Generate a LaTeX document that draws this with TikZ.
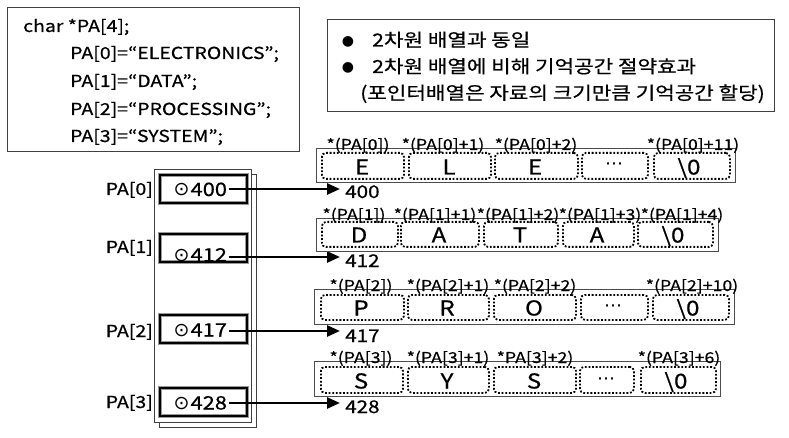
\documentclass[tikz,border=0pt]{standalone}
\usepackage{fontspec}
\setmainfont{Noto Sans CJK KR}[FakeStretch=1.18,FakeBold=0.6]
\newfontfamily\symf{DejaVu Sans}
\newcommand{\odotsym}{{\symf\fontsize{19}{20}\selectfont ⊙}\hspace{1pt}}
\usetikzlibrary{arrows.meta}
\begin{document}
\begin{tikzpicture}[x=1pt,y=-1pt,
  panel/.style={draw=black!75,line width=1.1pt,inner sep=0pt,anchor=north west},
  codetxt/.style={anchor=base west,inner sep=0pt,font=\fontsize{16.5}{18}\selectfont},
  kortxt/.style={anchor=base west,inner sep=0pt,font=\fontsize{18}{20}\selectfont},
  bul/.style={inner sep=0pt,font=\symf\fontsize{14}{16}\selectfont},
  ptrlbl/.style={anchor=base east,inner sep=0pt,font=\fontsize{16.5}{18}\selectfont},
  arrbox/.style={draw=black!75,line width=1pt,inner sep=0pt,anchor=north west},
  ptrcell/.style={draw=black,line width=1.8pt,preaction={draw=black!40,line width=3.8pt},inner sep=0pt,anchor=north west,minimum width=87pt,minimum height=28pt},
  ptrtxt/.style={anchor=base west,inner sep=1.5pt,font=\fontsize{18.5}{20}\selectfont},
  rowbox/.style={draw=black!70,line width=1.1pt,inner sep=0pt,anchor=north west},
  chcell/.style={draw=black,line width=1.8pt,dash pattern=on 1.8pt off 1.8pt,rounded corners=4pt,inner sep=0pt,anchor=north west},
  chtxt/.style={anchor=base,inner sep=0pt,font=\fontsize{20.5}{22}\selectfont},
  celllbl/.style={anchor=base,inner sep=0pt,font=\fontsize{15}{16}\selectfont},
  addr/.style={anchor=base west,inner sep=0pt,font=\fontsize{17.5}{19}\selectfont},
  ptr/.style={line width=2.6pt,-{Triangle[length=13pt,width=11pt]}}
]
\useasboundingbox (0,0) rectangle (789,438);

% code panel
\node[panel,minimum width=292pt,minimum height=144pt] (code) at (7,7) {};
\node[codetxt] (l0) at (23,32) {char *PA[4];};
\node[codetxt] (l1) at (70,59) {PA[0]=“ELECTRONICS”;};
\node[codetxt] (l2) at (70,87) {PA[1]=“DATA”;};
\node[codetxt] (l3) at (70,115) {PA[2]=“PROCESSING”;};
\node[codetxt] (l4) at (70,142) {PA[3]=“SYSTEM”;};

% note panel
\node[panel,minimum width=447pt,minimum height=92pt] (note) at (327,19) {};
\node[bul] (b1) at (348,42) {●};
\node[bul] (b2) at (348,68) {●};
\node[kortxt] (k1) at (372,46.5) {2차원 배열과 동일};
\node[kortxt] (k2) at (372,73) {2차원 배열에 비해 기억공간 절약효과};
\node[kortxt] (k3) at (360,99.5) {(포인터배열은 자료의 크기만큼 기억공간 할당)};

% pointer array
\node[arrbox,minimum width=97pt,minimum height=253pt] (pback) at (159,174) {};
\node[arrbox,fill=white,minimum width=97pt,minimum height=253pt] (pfront) at (154,169) {};

\node[ptrcell] (c0) at (159,174) {};
\node[ptrcell] (c1) at (159,233) {};
\node[ptrcell] (c2) at (159,314) {};
\node[ptrcell] (c3) at (159,387) {};

\node[ptrlbl] (p0) at (153,195) {PA[0]};
\node[ptrlbl] (p1) at (153,253) {PA[1]};
\node[ptrlbl] (p2) at (153,337) {PA[2]};
\node[ptrlbl] (p3) at (153,408) {PA[3]};

\node[ptrtxt] (t0) at (172,196) {\odotsym 400};
\node[ptrtxt] (t1) at (172,261.5) {\odotsym 412};
\node[ptrtxt] (t2) at (172,336.5) {\odotsym 417};
\node[ptrtxt] (t3) at (172,409.5) {\odotsym 428};

\coordinate (e0) at (340,189);
\coordinate (e1) at (340,257);
\coordinate (e2) at (340,331);
\coordinate (e3) at (340,403);

\draw[ptr] (t0.east |- e0) -- (e0);
\draw[ptr] (t1.east |- e1) -- (e1);
\draw[ptr] (t2.east |- e2) -- (e2);
\draw[ptr] (t3.east |- e3) -- (e3);

\node[addr] (a0) at (345,198) {400};
\node[addr] (a1) at (345,267) {412};
\node[addr] (a2) at (345,342) {417};
\node[addr] (a3) at (345,413) {428};

% row 0
\node[rowbox,minimum width=419pt,minimum height=34pt] (r0) at (316,148) {};
\node[chcell,minimum width=82pt,minimum height=26pt] (r0c1) at (321,152) {};
\node[chcell,minimum width=82pt,minimum height=26pt] (r0c2) at (408,152) {};
\node[chcell,minimum width=83pt,minimum height=26pt] (r0c3) at (494,152) {};
\node[chcell,minimum width=66pt,minimum height=26pt] (r0c4) at (581,152) {};
\node[chcell,minimum width=76pt,minimum height=26pt] (r0c5) at (653,152) {};
\node[chtxt] (r0t1) at (362,174.5) {E};
\node[chtxt] (r0t2) at (449,174.5) {L};
\node[chtxt] (r0t3) at (535,174.5) {E};
\node[chtxt,font=\symf\fontsize{18}{20}\selectfont] (r0t4) at (614,170) {⋯};
\node[chtxt] (r0t5) at (689,174.5) {\textbackslash 0};
\node[celllbl] (r0l1) at (358,150) {*(PA[0])};
\node[celllbl] (r0l2) at (443,150) {*(PA[0]+1)};
\node[celllbl] (r0l3) at (536,150) {*(PA[0]+2)};
\node[celllbl] (r0l5) at (693,150) {*(PA[0]+11)};

% row 1
\node[rowbox,minimum width=402pt,minimum height=33pt] (r1) at (316,218) {};
\node[chcell,minimum width=76pt,minimum height=25pt] (r1c1) at (321,221) {};
\node[chcell,minimum width=78pt,minimum height=25pt] (r1c2) at (400,221) {};
\node[chcell,minimum width=74pt,minimum height=25pt] (r1c3) at (483,221) {};
\node[chcell,minimum width=71pt,minimum height=25pt] (r1c4) at (562,221) {};
\node[chcell,minimum width=75pt,minimum height=25pt] (r1c5) at (637,221) {};
\node[chtxt] (r1t1) at (359,242.5) {D};
\node[chtxt] (r1t2) at (439,242.5) {A};
\node[chtxt] (r1t3) at (520,242.5) {T};
\node[chtxt] (r1t4) at (597,242.5) {A};
\node[chtxt] (r1t5) at (673,242.5) {\textbackslash 0};
\node[celllbl] (r1l1) at (354,220) {*(PA[1])};
\node[celllbl] (r1l2) at (435,220) {*(PA[1]+1)};
\node[celllbl] (r1l3) at (518,220) {*(PA[1]+2)};
\node[celllbl] (r1l4) at (600,220) {*(PA[1]+3)};
\node[celllbl] (r1l5) at (682,220) {*(PA[1]+4)};

% row 2
\node[rowbox,minimum width=420pt,minimum height=35pt] (r2) at (314,289) {};
\node[chcell,minimum width=83pt,minimum height=25pt] (r2c1) at (320,294) {};
\node[chcell,minimum width=81pt,minimum height=25pt] (r2c2) at (407,294) {};
\node[chcell,minimum width=82pt,minimum height=25pt] (r2c3) at (493,294) {};
\node[chcell,minimum width=67pt,minimum height=25pt] (r2c4) at (580,294) {};
\node[chcell,minimum width=76pt,minimum height=25pt] (r2c5) at (652,294) {};
\node[chtxt] (r2t1) at (361,315.5) {P};
\node[chtxt] (r2t2) at (447,315.5) {R};
\node[chtxt] (r2t3) at (534,315.5) {O};
\node[chtxt,font=\symf\fontsize{18}{20}\selectfont] (r2t4) at (613,311) {⋯};
\node[chtxt] (r2t5) at (688,315.5) {\textbackslash 0};
\node[celllbl] (r2l1) at (361,291) {*(PA[2])};
\node[celllbl] (r2l2) at (448,291) {*(PA[2]+1)};
\node[celllbl] (r2l3) at (535,291) {*(PA[2]+2)};
\node[celllbl] (r2l5) at (692,291) {*(PA[2]+10)};

% row 3
\node[rowbox,minimum width=406pt,minimum height=35pt] (r3) at (314,361) {};
\node[chcell,minimum width=82pt,minimum height=26pt] (r3c1) at (320,366) {};
\node[chcell,minimum width=81pt,minimum height=26pt] (r3c2) at (407,366) {};
\node[chcell,minimum width=82pt,minimum height=26pt] (r3c3) at (493,366) {};
\node[chcell,minimum width=54pt,minimum height=26pt] (r3c4) at (579,366) {};
\node[chcell,minimum width=75pt,minimum height=26pt] (r3c5) at (640,366) {};
\node[chtxt] (r3t1) at (361,388.5) {S};
\node[chtxt] (r3t2) at (447,388.5) {Y};
\node[chtxt] (r3t3) at (534,388.5) {S};
\node[chtxt,font=\symf\fontsize{18}{20}\selectfont] (r3t4) at (606,384) {⋯};
\node[chtxt] (r3t5) at (676,388.5) {\textbackslash 0};
\node[celllbl] (r3l1) at (361,363) {*(PA[3])};
\node[celllbl] (r3l2) at (448,363) {*(PA[3]+1)};
\node[celllbl] (r3l3) at (535,363) {*PA[3]+2)};
\node[celllbl] (r3l5) at (679,363) {*(PA[3]+6)};
\end{tikzpicture}
\end{document}
